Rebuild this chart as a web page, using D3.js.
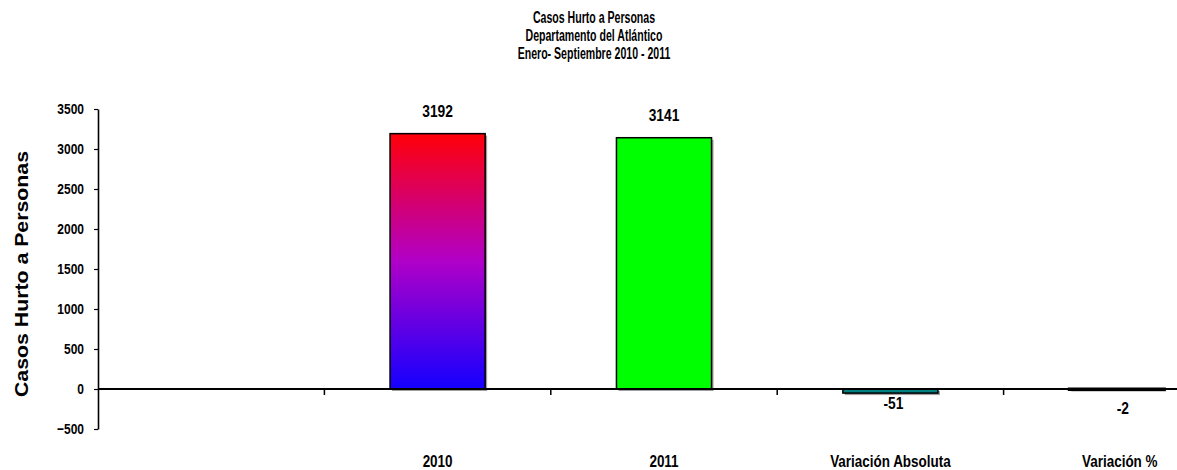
<!DOCTYPE html>
<html>
<head>
<meta charset="utf-8">
<script src="https://cdn.jsdelivr.net/npm/d3@7"></script>
<style>
  html, body { margin: 0; padding: 0; background: #ffffff; }
  svg { display: block; }
  text { font-family: "Liberation Sans", Arial, sans-serif; font-weight: bold; fill: #000; }
</style>
</head>
<body>
<svg id="chart" width="1177" height="470"></svg>
<script>
// ---- data ----
const categories = ["", "2010", "2011", "Variación Absoluta", "Variación %"];
const values = [null, 3192, 3141, -51, -2];
const valueLabels = ["", "3192", "3141", "-51", "-2"];
const yTicks = [-500, 0, 500, 1000, 1500, 2000, 2500, 3000, 3500];
const titleLines = ["Casos Hurto a Personas", "Departamento del Atlántico", "Enero- Septiembre 2010 - 2011"];
const yAxisTitle = "Casos Hurto a Personas";

// ---- helpers ----
function condense(sel, ratio) {
  sel.each(function () {
    const w = this.getComputedTextLength();
    if (w > 0) d3.select(this).attr("textLength", w * ratio).attr("lengthAdjust", "spacingAndGlyphs");
  });
}

// ---- layout ----
const svg = d3.select("#chart");
const plotLeft = 98, plotRight = 1230, plotTop = 109, plotBottom = 429;

const x = d3.scaleBand().domain(categories).range([plotLeft, plotRight]).paddingInner(0.58).paddingOuter(0.29);
const y = d3.scaleLinear().domain([-500, 3500]).range([plotBottom, plotTop]);

// gradient for 2010 bar
const defs = svg.append("defs");
const grad = defs.append("linearGradient").attr("id", "g2010").attr("x1", 0).attr("y1", 0).attr("x2", 0).attr("y2", 1);
grad.append("stop").attr("offset", "0%").attr("stop-color", "#ff0008");
grad.append("stop").attr("offset", "50%").attr("stop-color", "#b000c8");
grad.append("stop").attr("offset", "100%").attr("stop-color", "#1400ff");

const fills = ["none", "url(#g2010)", "#00ff00", "#008080", "#333333"];

// title
svg.append("g").selectAll("text").data(titleLines).join("text")
  .attr("x", 594).attr("y", (d, i) => 23 + i * 18)
  .attr("text-anchor", "middle").style("font-size", "16px")
  .text(d => d)
  .call(condense, 0.66);

// y axis title
svg.append("text")
  .attr("transform", "translate(28,274) rotate(-90)")
  .attr("text-anchor", "middle")
  .style("font-size", "18px")
  .text(yAxisTitle)
  .attr("textLength", 246).attr("lengthAdjust", "spacingAndGlyphs");

// y axis
const yAxis = d3.axisLeft(y).tickValues(yTicks).tickSize(4).tickSizeOuter(0).tickPadding(10).tickFormat(d3.format("d"));
const gy = svg.append("g").attr("transform", `translate(${plotLeft},0)`).call(yAxis);
gy.attr("font-family", null).attr("font-size", null);
gy.select(".domain").attr("stroke", "#000").attr("stroke-width", 1.6);
gy.selectAll(".tick line").attr("stroke", "#000").attr("stroke-width", 1.2);
gy.selectAll(".tick text").style("font-size", "15px").attr("fill", "#000").call(condense, 0.8);

// bars
const shadow = svg.append("g");
const bars = svg.append("g");
categories.forEach((c, i) => {
  const v = values[i];
  if (v === null) return;
  const y0 = y(Math.max(0, v)), y1 = y(Math.min(0, v));
  const h = Math.max(y1 - y0, 0.5);
  shadow.append("rect").attr("x", x(c) + 2).attr("y", y0 + 2).attr("width", x.bandwidth()).attr("height", h)
    .attr("fill", "#a0a0a0");
  bars.append("rect").attr("x", x(c)).attr("y", y0).attr("width", x.bandwidth()).attr("height", h)
    .attr("fill", fills[i]).attr("stroke", "#000").attr("stroke-width", i === 4 ? 3 : 1.5);
});

// x axis line at zero with tick marks at band boundaries
const zeroY = y(0);
svg.append("line").attr("x1", plotLeft).attr("x2", 1177).attr("y1", zeroY).attr("y2", zeroY)
  .attr("stroke", "#000").attr("stroke-width", 2);
const boundaries = categories.slice(1).map(c => x(c) - x.step() * x.paddingInner() / 2);
svg.append("g").selectAll("line").data(boundaries).join("line")
  .attr("x1", d => d).attr("x2", d => d).attr("y1", zeroY).attr("y2", zeroY + 6)
  .attr("stroke", "#000").attr("stroke-width", 1.5);

// category labels at bottom
svg.append("g").selectAll("text").data(categories).join("text")
  .attr("x", d => x(d) + x.bandwidth() / 2 + (d === "Variación %" ? 3 : 0)).attr("y", 467)
  .attr("text-anchor", "middle").style("font-size", "16px")
  .text(d => d)
  .call(condense, 0.84);

// value labels
svg.append("g").selectAll("text").data(categories.map((c, i) => ({c, v: values[i], l: valueLabels[i]})).filter(d => d.v !== null))
  .join("text")
  .attr("x", d => x(d.c) + x.bandwidth() / 2 + (d.v < 0 ? (d.v > -10 ? 6 : 3) : 0))
  .attr("y", d => d.v >= 0 ? y(d.v) - 17 : y(d.v) + (d.v > -10 ? 25 : 16))
  .attr("text-anchor", "middle").style("font-size", "16px")
  .text(d => d.l)
  .call(condense, 0.86);
</script>
</body>
</html>
